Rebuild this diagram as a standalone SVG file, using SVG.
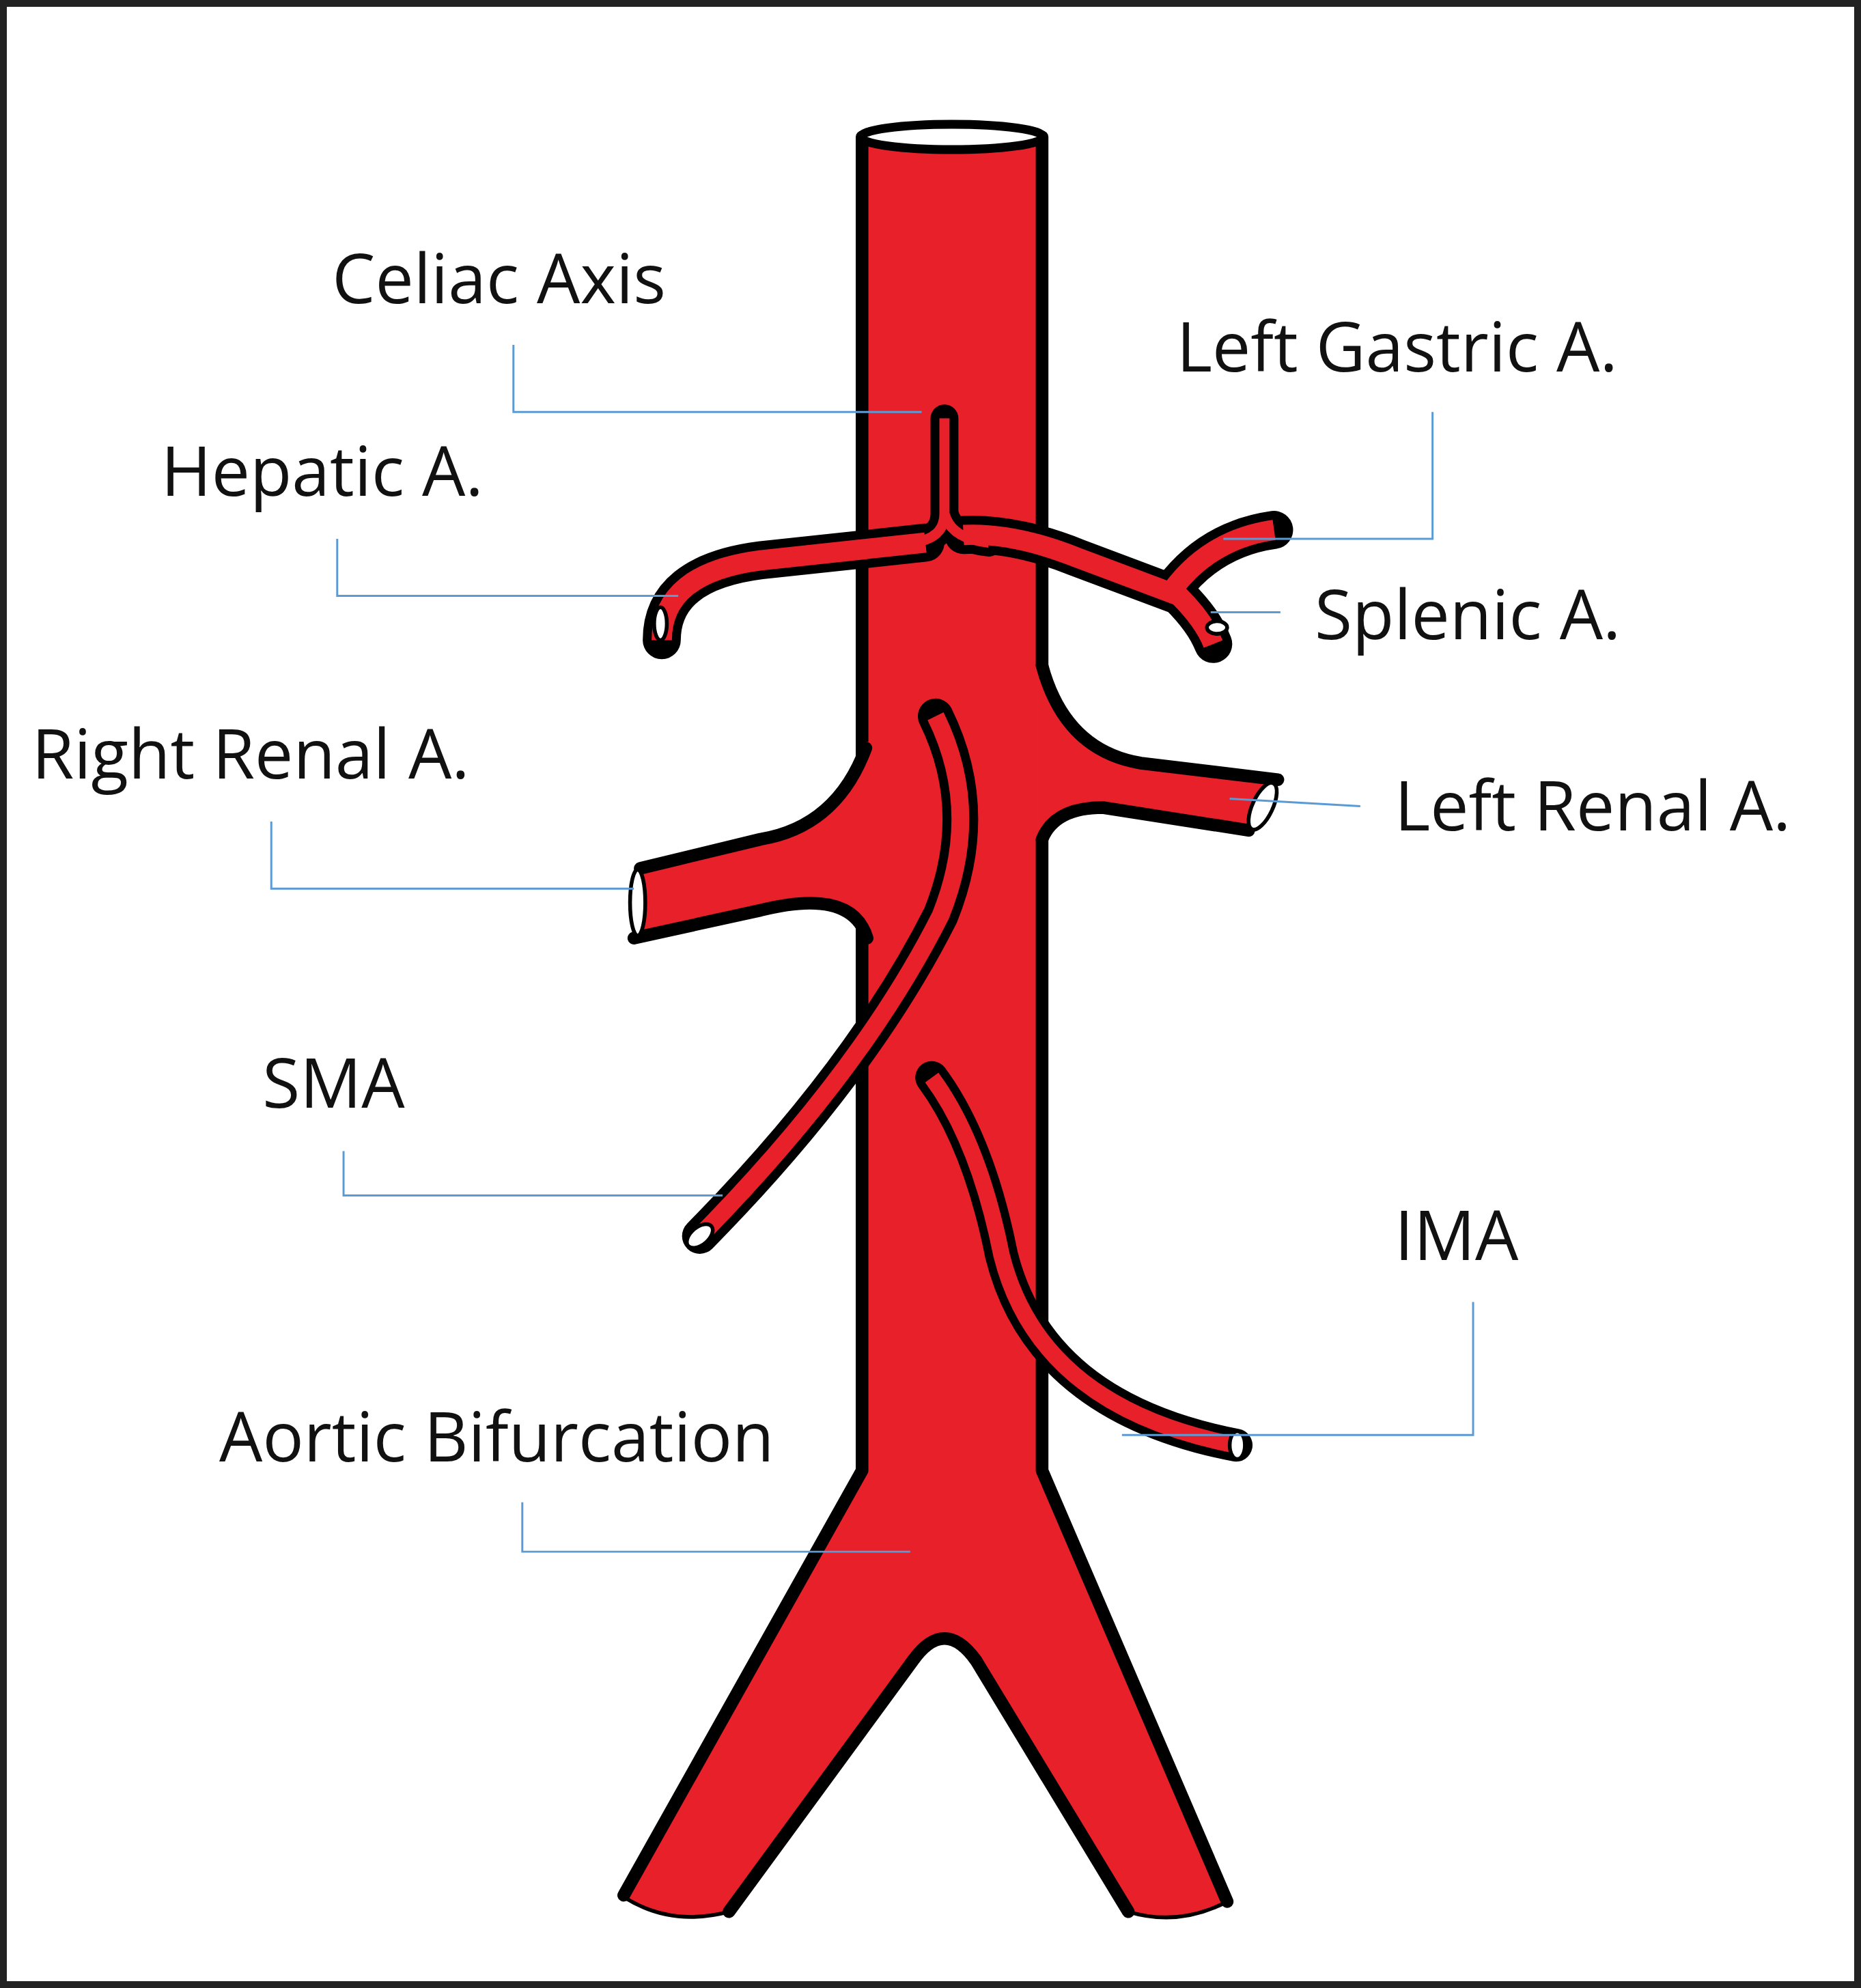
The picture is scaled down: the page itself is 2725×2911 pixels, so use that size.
<svg xmlns="http://www.w3.org/2000/svg" width="2725" height="2911" viewBox="0 0 2725 2911">
<style>
.lbl{font-family:"Open Sans","Liberation Sans",sans-serif;font-size:54px;fill:#111}
.lead{fill:none;stroke:#5b9bd5;stroke-width:1.6}
.ob{fill:none;stroke:#000;stroke-linecap:round;stroke-linejoin:round}
.rc{fill:none;stroke:#e8202a;stroke-linecap:butt;stroke-linejoin:round}
.ol{fill:none;stroke:#000;stroke-width:10;stroke-linejoin:round;stroke-linecap:round}
.cap{fill:#fff;stroke:#000;stroke-width:3}
</style>
<rect x="0" y="0" width="2725" height="2911" fill="#fff"/>
<rect x="5" y="5" width="2715" height="2901" fill="none" stroke="#222" stroke-width="10"/>
<g transform="scale(1.8563)">
<g id="aorta">
<path d="M680,108 L680,1160 L492,1495 Q530,1520 575,1508 L720,1310 Q745,1275 770,1310 L890,1508 Q930,1520 968,1500 L822,1160 L822,108 Z" fill="#e8202a"/>
<path class="ol" d="M680,108 L680,1160 L492,1495 M575,1508 L720,1310 Q745,1275 770,1310 L890,1508 M968,1500 L822,1160 L822,520 M822,660 L822,1160 M822,108 L822,520"/>
<path d="M493,1497 Q530,1520 575,1508 M890,1508 Q930,1520 968,1500" fill="none" stroke="#000" stroke-width="3"/>
<ellipse cx="751" cy="108" rx="72" ry="10" fill="#fff" stroke="#000" stroke-width="7"/>
</g>
<g id="right-renal">
<path d="M683,585 Q660,652 600,662 L505,685 L500,740 L600,718 Q672,700 688,745 L700,745 L700,585 Z" fill="#e8202a"/>
<path class="ol" d="M683,590 Q660,652 600,662 L505,685 M500,740 L600,718 Q672,700 684,740"/>
<ellipse cx="503" cy="712" rx="6" ry="26" class="cap"/>
</g>
<g id="left-renal">
<path d="M815,520 Q840,592 900,602 L1008,615 L985,655 L870,637 Q830,640 815,665 Z" fill="#e8202a"/>
<path class="ol" d="M822,525 Q840,592 900,602 L1008,615 M985,655 L870,637 Q832,637 822,662"/>
<ellipse cx="996" cy="636" rx="8" ry="20" transform="rotate(25 996 636)" class="cap"/>
</g>
<g id="sma">
<path class="ob" stroke-width="28" d="M738,565 Q775,640 742,722 Q680,845 552,975"/>
<path class="rc" stroke-width="14" d="M738,565 Q775,640 742,722 Q680,845 552,975"/>
<ellipse cx="552" cy="975" rx="12" ry="7" transform="rotate(-40 552 975)" class="cap"/>
</g>
<g id="ima">
<path class="ob" stroke-width="26" d="M735,850 Q772,900 790,990 Q820,1110 975,1140"/>
<path class="rc" stroke-width="13" d="M735,850 Q772,900 790,990 Q820,1110 975,1140"/>
<ellipse cx="976" cy="1140" rx="6" ry="11" class="cap"/>
</g>
<g id="celiac">
<path class="ob" stroke-width="22" d="M745,330 L745,405 Q745,425 720,428 M745,405 Q750,425 780,428"/>
<path class="ob" stroke-width="30" d="M522,505 Q522,452 600,442 L730,428 M760,422 Q800,420 850,440 L930,470 Q950,490 957,508 M925,465 Q955,425 1005,418"/>
<path class="rc" stroke-width="16" d="M522,505 Q522,452 600,442 L730,428 M760,422 Q800,420 850,440 L930,470 Q950,490 957,508 M925,465 Q955,425 1005,418"/>
<path class="rc" stroke-width="8" d="M745,330 L745,405 Q745,425 720,428 M745,405 Q750,425 780,428"/>
<ellipse cx="521" cy="492" rx="5" ry="13" class="cap"/>
<ellipse cx="960" cy="495" rx="8" ry="5" class="cap"/>
</g>
</g>
<g id="connectors" transform="scale(1.8563)">
<path class="lead" d="M405,272 V325 H727"/>
<path class="lead" d="M1130,325 V425 H965"/>
<path class="lead" d="M266,425 V470 H535"/>
<path class="lead" d="M1010,483 H955"/>
<path class="lead" d="M214,648 V701 H500"/>
<path class="lead" d="M1073,636 L970,630"/>
<path class="lead" d="M271,908 V943 H570"/>
<path class="lead" d="M1162,1027 V1132 H885"/>
<path class="lead" d="M412,1185 V1224 H718"/>
</g>
<g id="labels" transform="scale(1.8563)">
<text class="lbl" x="262" y="239">Celiac Axis</text>
<text class="lbl" x="928" y="293">Left Gastric A.</text>
<text class="lbl" x="127" y="391">Hepatic A.</text>
<text class="lbl" x="1037" y="504">Splenic A.</text>
<text class="lbl" x="25" y="614">Right Renal A.</text>
<text class="lbl" x="1100" y="655">Left Renal A.</text>
<text class="lbl" x="207" y="874">SMA</text>
<text class="lbl" x="1100" y="994">IMA</text>
<text class="lbl" x="173" y="1153">Aortic Bifurcation</text>
</g>
</svg>
